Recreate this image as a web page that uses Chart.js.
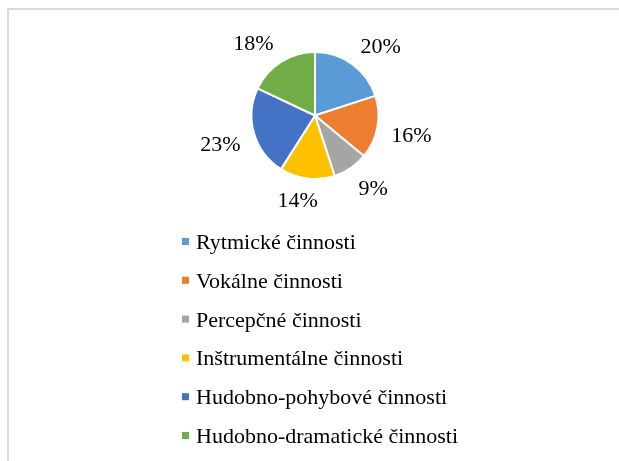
<!DOCTYPE html>
<html>
<head>
<meta charset="utf-8">
<script src="https://cdn.jsdelivr.net/npm/chart.js@4"></script>
<style>
	html, body { margin: 0; background: #fff; overflow: hidden; width: 619px; height: 461px; }
	#frame { position: absolute; left: 7px; top: 8px; width: 700px; height: 520px; border-left: 2px solid #d9d9d9; border-top: 2px solid #d9d9d9; }
	#chart { position: absolute; left: 0; top: 0; }
</style>
</head>
<body>
<div id="frame"></div>
<canvas id="chart" width="619" height="461"></canvas>
<script>
const categories = ['Rytmické činnosti', 'Vokálne činnosti', 'Percepčné činnosti', 'Inštrumentálne činnosti', 'Hudobno-pohybové činnosti', 'Hudobno-dramatické činnosti'];
const shares = [20, 16, 9, 14, 23, 18];
const sliceColors = ['#5B9BD5', '#ED7D31', '#A5A5A5', '#FFC000', '#4472C4', '#70AD47'];

function clamp(v) {
	return Math.max(-1, Math.min(1, v));
}

// percentage labels outside each slice, box corner sitting on the ray
const outsideLabels = {
	id: 'outsideLabels',
	afterDatasetsDraw(chart) {
		const ctx = chart.ctx;
		const meta = chart.getDatasetMeta(0);
		const size = 22;
		ctx.save();
		ctx.font = size + 'px "Liberation Serif", "Times New Roman", serif';
		ctx.fillStyle = '#000';
		ctx.textAlign = 'center';
		ctx.textBaseline = 'alphabetic';
		meta.data.forEach((arc, i) => {
			const p = arc.getProps(['x', 'y', 'startAngle', 'endAngle', 'outerRadius'], true);
			const a = (p.startAngle + p.endAngle) / 2;
			const cos = Math.cos(a), sin = Math.sin(a);
			const text = shares[i] + '%';
			const w = ctx.measureText(text).width;
			const h = size * 0.68;
			const d = p.outerRadius + 14;
			const cx = p.x + d * cos + clamp(3 * cos) * w / 2;
			const cy = p.y + d * sin + clamp(3 * sin) * h / 2;
			ctx.fillText(text, cx, cy + h / 2);
		});
		ctx.restore();
	}
};

// single column legend under the pie
const columnLegend = {
	id: 'columnLegend',
	afterDraw(chart) {
		const ctx = chart.ctx;
		const ds = chart.data.datasets[0];
		ctx.save();
		ctx.font = '22px "Liberation Serif", "Times New Roman", serif';
		ctx.textAlign = 'left';
		ctx.textBaseline = 'alphabetic';
		chart.data.labels.forEach((label, i) => {
			const base = 249 + i * 38.8;
			ctx.fillStyle = ds.backgroundColor[i];
			ctx.fillRect(182, base - 11, 7, 7);
			ctx.fillStyle = '#000';
			ctx.fillText(label, 196, base);
		});
		ctx.restore();
	}
};

new Chart(document.getElementById('chart'), {
	type: 'pie',
	data: {
		labels: categories,
		datasets: [{
			data: shares,
			backgroundColor: sliceColors,
			borderColor: '#ffffff',
			borderWidth: 2
		}]
	},
	options: {
		responsive: false,
		animation: false,
		layout: {
			padding: { left: 11, right: 0, top: 51, bottom: 281 }
		},
		plugins: {
			legend: { display: false },
			tooltip: { enabled: false }
		}
	},
	plugins: [outsideLabels, columnLegend]
});
</script>
</body>
</html>
